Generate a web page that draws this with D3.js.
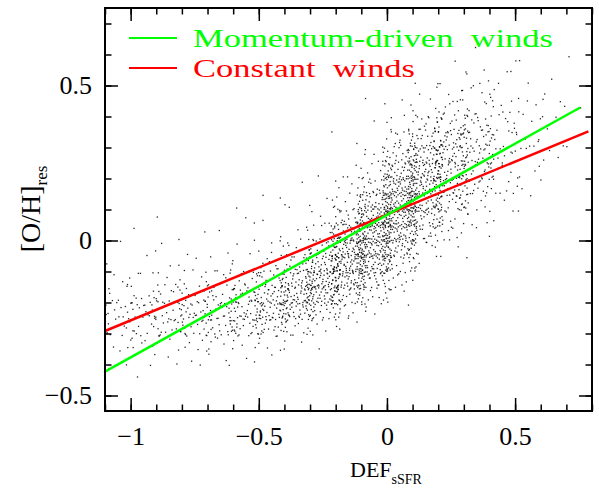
<!DOCTYPE html>
<html>
<head>
<meta charset="utf-8">
<script src="https://cdn.jsdelivr.net/npm/d3@7"></script>
<style>
  body { margin: 0; background: #fff; }
  svg { display: block; }
</style>
</head>
<body>
<script>
// axis ticks
var xMajor = [-1, -0.5, 0, 0.5];
var xTickLabels = ["\u22121", "\u22120.5", "0", "0.5"];
var yMajor = [-0.5, 0, 0.5];
var yTickLabels = ["\u22120.5", "0", "0.5"];
var xMinor = d3.range(-11, 9).map(function(i) { return i / 10; });
var yMinor = d3.range(-5, 8).map(function(i) { return i / 10; });

// fit lines (end points)
var momentumLine = [[-1.1, -0.423], [0.754, 0.429]];
var constantLine = [[-1.1, -0.292], [0.786, 0.352]];

// point density:
// columns are DEF bins of 0.1 starting at -1.1,
// rows are [O/H] bins of 0.05 starting at -0.55 (colStart = first row used)
var colStart = [2, 2, 3, 2, 3, 3, 3, 4, 4, 5, 6, 7, 9, 10, 11, 12, 13, 15, 17];
var colCounts = [
  [1, 2, 5, 9, 11, 7, 3, 1, 1],
  [1, 3, 7, 12, 13, 8, 3, 2, 1, 1],
  [2, 6, 13, 15, 10, 5, 2, 1, 1, 1],
  [1, 2, 7, 15, 17, 12, 5, 2, 1, 1],
  [2, 8, 17, 21, 15, 7, 3, 1, 1, 1],
  [2, 7, 21, 26, 21, 10, 4, 2, 1, 1, 1],
  [2, 6, 22, 34, 34, 19, 8, 3, 2, 1, 1],
  [3, 14, 36, 44, 34, 17, 7, 3, 2, 1, 1],
  [1, 6, 24, 46, 52, 44, 24, 9, 4, 2, 1, 1],
  [2, 9, 30, 49, 62, 59, 43, 22, 9, 4, 2, 1, 1],
  [3, 12, 30, 49, 64, 68, 55, 37, 19, 9, 4, 2, 1, 1],
  [3, 9, 22, 37, 55, 64, 64, 54, 39, 24, 12, 5, 2, 1],
  [3, 7, 18, 34, 46, 51, 49, 39, 24, 12, 5, 2, 1],
  [3, 7, 12, 22, 29, 34, 34, 29, 19, 9, 4, 2, 1],
  [2, 4, 9, 14, 18, 19, 18, 14, 9, 5, 3, 1, 1],
  [2, 3, 6, 8, 9, 9, 8, 6, 3, 2, 1],
  [1, 2, 3, 4, 5, 4, 3, 2, 2, 1, 1],
  [1, 2, 2, 2, 2, 1, 1, 1],
  [1, 0, 1]
];
var xBin0 = -1.1, xBinW = 0.1, yBin0 = -0.55, yBinH = 0.05;

var width = 599, height = 500;
var svg = d3.select("body").append("svg").attr("width", width).attr("height", height);

var x = d3.scaleLinear().domain([-1.1, 0.8]).range([105, 592]);
var y = d3.scaleLinear().domain([-0.55, 0.75]).range([411, 8]);

// radical inverse, used to spread a cell's points evenly (Halton sequence)
function halton(i, b) {
  var f = 1, r = 0;
  while (i > 0) { f /= b; r += f * (i % b); i = Math.floor(i / b); }
  return r;
}

// each cell's points cover the cell plus a little overlap with its neighbours
var spread = 1.35;
var points = [];
var g = 1;
colCounts.forEach(function(col, c) {
  col.forEach(function(n, r) {
    var xc = xBin0 + (c + 0.5) * xBinW;
    var yc = yBin0 + (colStart[c] + r + 0.5) * yBinH;
    for (var k = 0; k < n; k++) {
      g++;
      var u = halton(g, 2) - 0.5;
      var v = halton(g, 3) - 0.5;
      var px = xc + u * xBinW * spread;
      var py = yc + v * yBinH * spread;
      if (px < -1.1) px = -1.1 + (-1.1 - px);
      points.push({ x: px, y: py });
    }
  });
});

svg.append("g").selectAll("rect")
  .data(points)
  .enter().append("rect")
    .attr("x", function(d) { return x(d.x) - 0.65; })
    .attr("y", function(d) { return y(d.y) - 0.65; })
    .attr("width", 1.3)
    .attr("height", 1.3)
    .attr("fill", "#000")
    .attr("fill-opacity", 0.85);

var line = d3.line()
  .x(function(d) { return x(d[0]); })
  .y(function(d) { return y(d[1]); });

svg.append("path").attr("d", line(constantLine))
  .attr("fill", "none").attr("stroke", "#ff0000").attr("stroke-width", 2.5);
svg.append("path").attr("d", line(momentumLine))
  .attr("fill", "none").attr("stroke", "#00ff00").attr("stroke-width", 2.5);

// axes, ticks pointing inward
function tidy(sel) {
  sel.select(".domain").remove();
  sel.selectAll("line").attr("stroke", "#000").attr("stroke-width", 1.5);
  sel.attr("font-family", "'Liberation Serif', serif").attr("font-size", 26);
  sel.selectAll("text").attr("fill", "#000");
}

svg.append("g").attr("transform", "translate(0,411)")
  .call(d3.axisBottom(x).tickValues(xMinor).tickSize(-6.5).tickFormat("")).call(tidy);
svg.append("g").attr("transform", "translate(0,411)")
  .call(d3.axisBottom(x).tickValues(xMajor).tickSize(-13).tickPadding(16)
    .tickFormat(function(d, i) { return xTickLabels[i]; })).call(tidy);
svg.append("g").attr("transform", "translate(0,8)")
  .call(d3.axisTop(x).tickValues(xMinor).tickSize(-6.5).tickFormat("")).call(tidy);
svg.append("g").attr("transform", "translate(0,8)")
  .call(d3.axisTop(x).tickValues(xMajor).tickSize(-13).tickFormat("")).call(tidy);

svg.append("g").attr("transform", "translate(105,0)")
  .call(d3.axisLeft(y).tickValues(yMinor).tickSize(-6.5).tickFormat("")).call(tidy);
svg.append("g").attr("transform", "translate(105,0)")
  .call(d3.axisLeft(y).tickValues(yMajor).tickSize(-13).tickPadding(13)
    .tickFormat(function(d, i) { return yTickLabels[i]; })).call(tidy);
svg.append("g").attr("transform", "translate(592,0)")
  .call(d3.axisRight(y).tickValues(yMinor).tickSize(-6.5).tickFormat("")).call(tidy);
svg.append("g").attr("transform", "translate(592,0)")
  .call(d3.axisRight(y).tickValues(yMajor).tickSize(-13).tickFormat("")).call(tidy);

svg.append("rect")
  .attr("x", 105).attr("y", 8).attr("width", 487).attr("height", 403)
  .attr("fill", "none").attr("stroke", "#000").attr("stroke-width", 2);

// legend
var legend = [
  { label: "Momentum-driven  winds", color: "#00ff00", ly: 38, ty: 47, len: 360 },
  { label: "Constant  winds", color: "#ff0000", ly: 68, ty: 77, len: 222 }
];
legend.forEach(function(d) {
  svg.append("line").attr("x1", 129).attr("x2", 177).attr("y1", d.ly).attr("y2", d.ly)
    .attr("stroke", d.color).attr("stroke-width", 2);
  svg.append("text").attr("x", 193).attr("y", d.ty)
    .attr("font-family", "'Liberation Serif', serif").attr("font-size", 26)
    .attr("fill", d.color)
    .attr("textLength", d.len).attr("lengthAdjust", "spacingAndGlyphs")
    .style("white-space", "pre")
    .text(d.label);
});

// axis titles
var xt = svg.append("text").attr("x", 386).attr("y", 477)
  .attr("text-anchor", "middle")
  .attr("font-family", "'Liberation Serif', serif").attr("font-size", 22);
xt.append("tspan").text("DEF");
xt.append("tspan").attr("font-size", 14).attr("dy", 7).text("sSFR");

var yt = svg.append("text")
  .attr("transform", "translate(40,209) rotate(-90)")
  .attr("text-anchor", "middle")
  .attr("font-family", "'Liberation Serif', serif").attr("font-size", 28);
yt.append("tspan").text("[O/H]");
yt.append("tspan").attr("font-size", 17).attr("dy", 7).text("res");
</script>
</body>
</html>
